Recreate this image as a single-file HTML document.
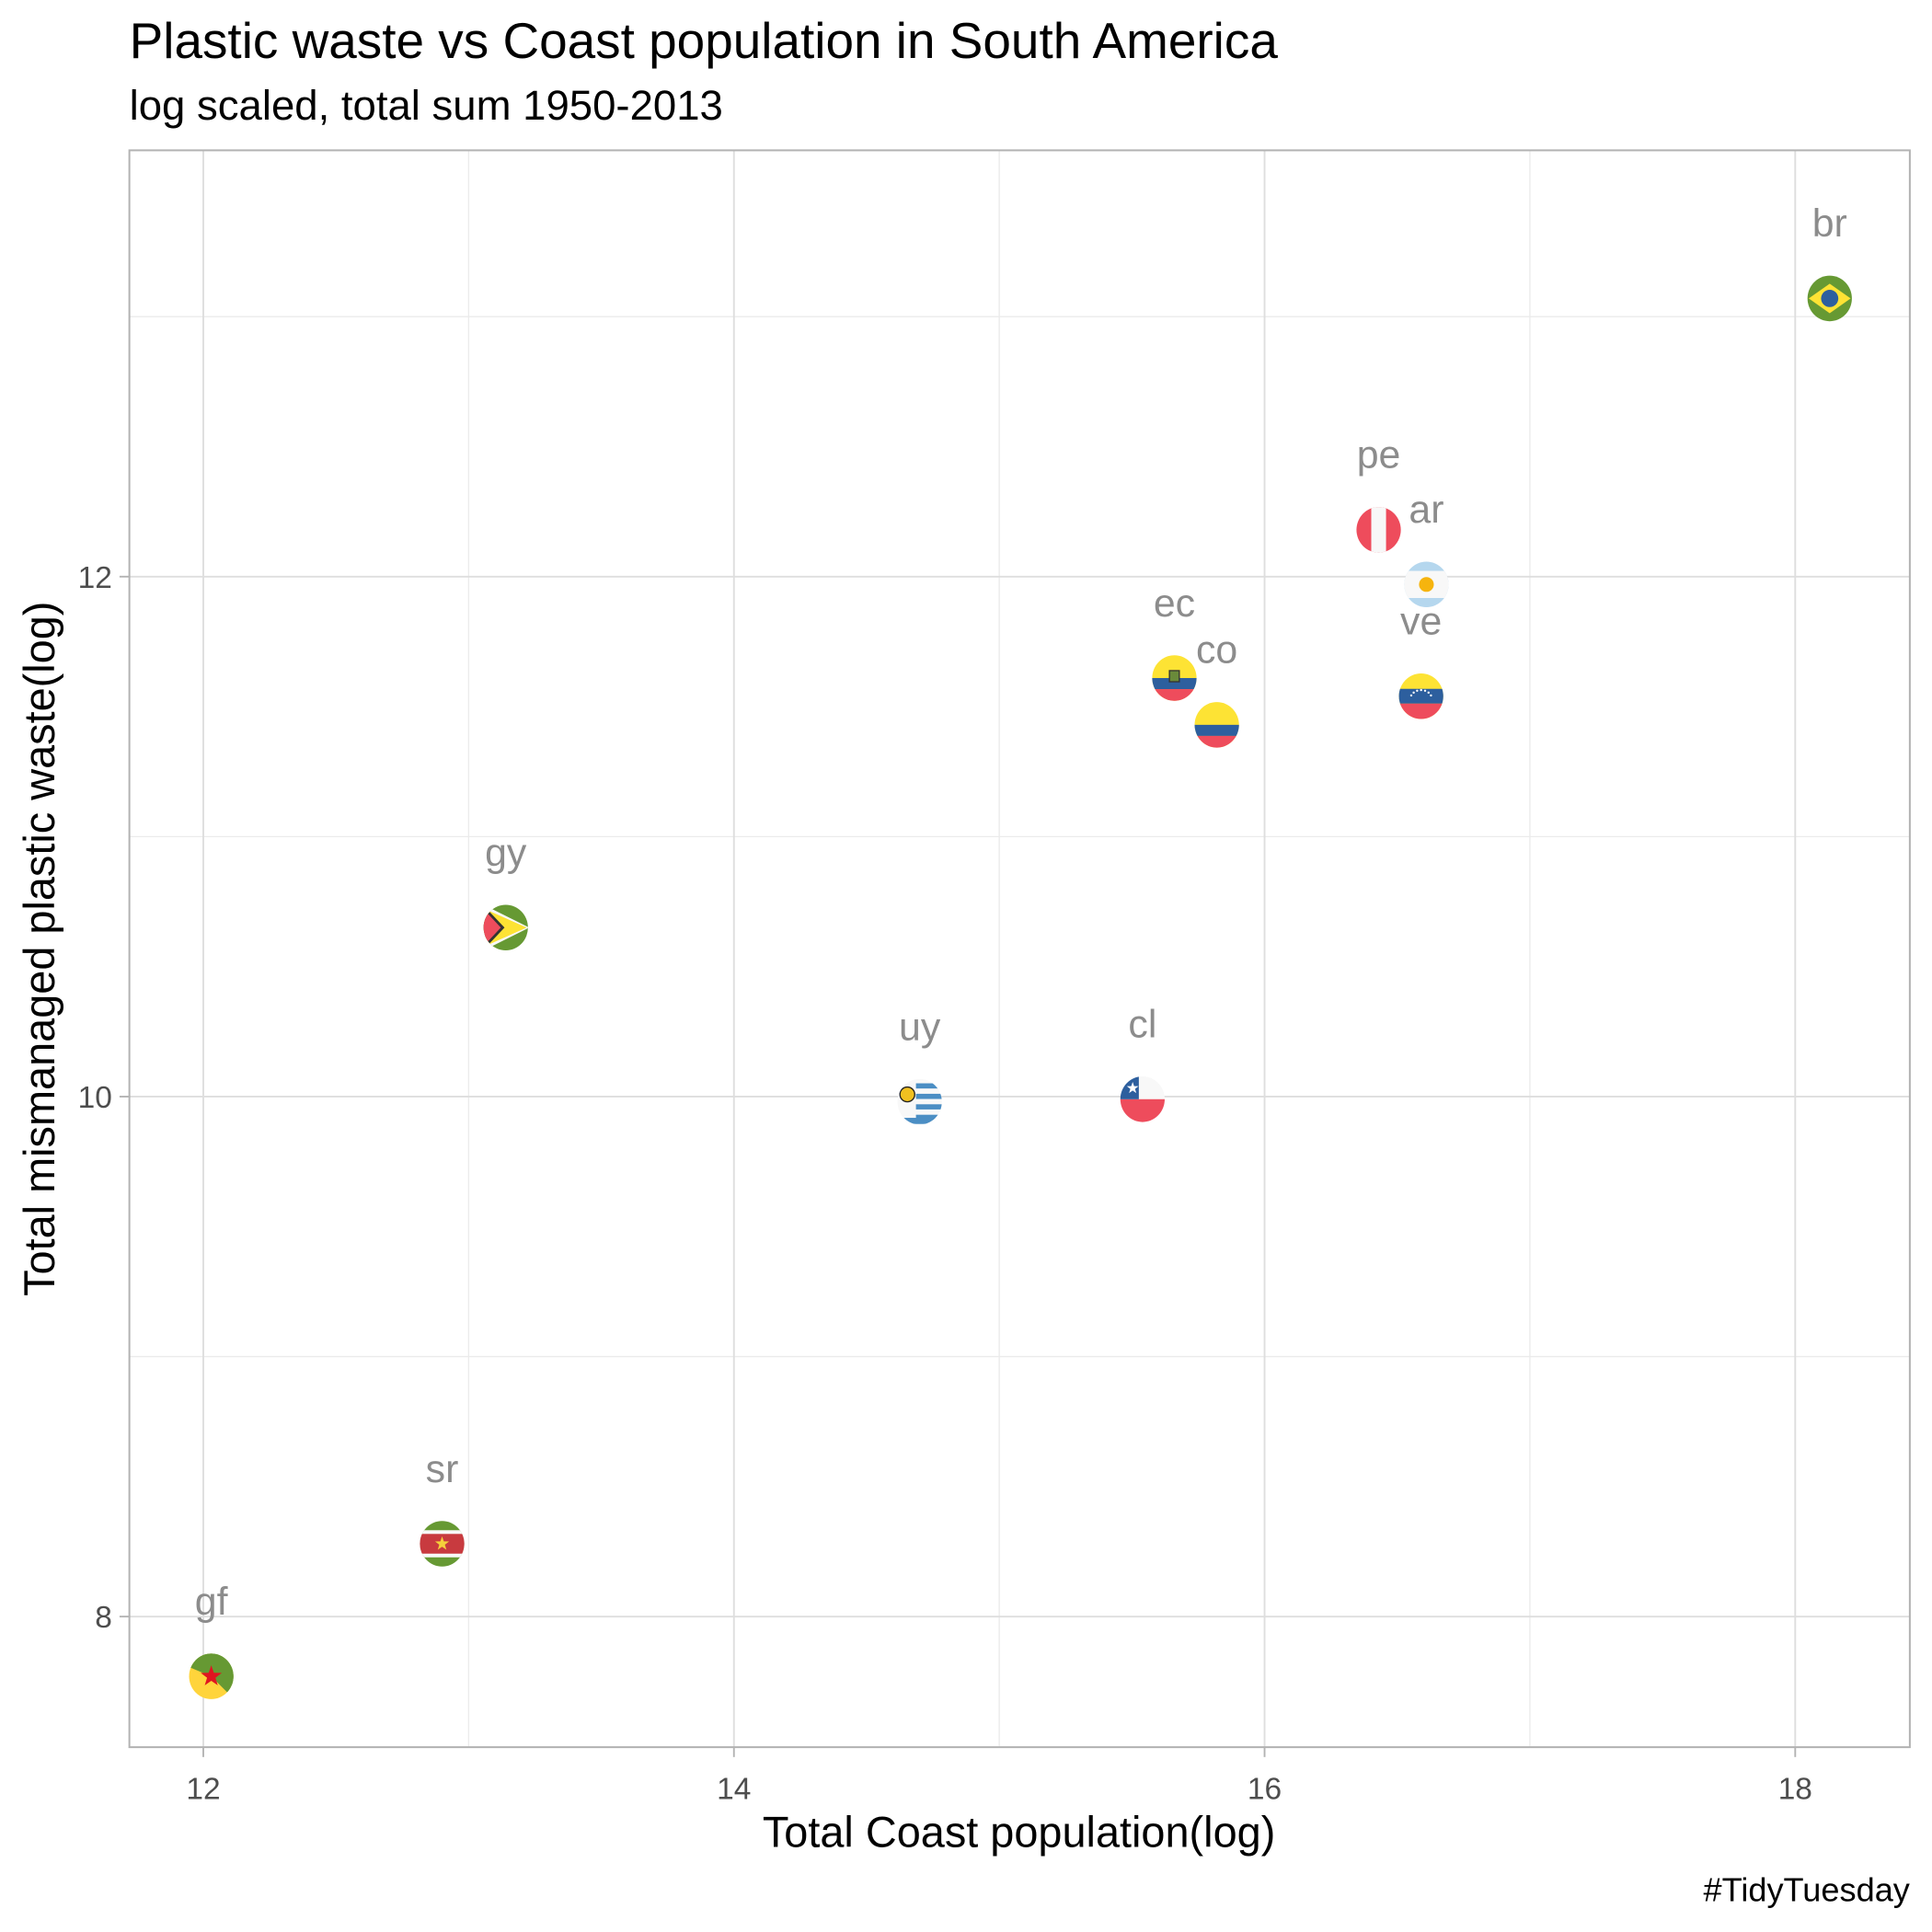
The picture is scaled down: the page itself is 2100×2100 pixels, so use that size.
<!DOCTYPE html>
<html><head><meta charset="utf-8"><style>
html,body{margin:0;padding:0;background:#fff;}
svg{display:block;font-family:"Liberation Sans",Arial,sans-serif;}
</style></head><body>
<svg id="chart" width="2100" height="2100" viewBox="0 0 1568 1568" xmlns="http://www.w3.org/2000/svg">
<rect x="0" y="0" width="1568" height="1568" fill="#fff"/>
<text x="105" y="47" font-size="41" fill="#000">Plastic waste vs Coast population in South America</text>
<text x="105" y="97" font-size="34" fill="#000">log scaled, total sum 1950-2013</text>
<g id="grid"></g>
<g id="axes"></g>
<g id="marks"></g>
<rect x="105" y="122" width="1445" height="1296" fill="none" stroke="#b3b3b3" stroke-width="1.5"/>
<text x="827" y="1499" font-size="35" text-anchor="middle" fill="#000">Total Coast population(log)</text>
<text transform="translate(44,770) rotate(-90)" font-size="35" text-anchor="middle" fill="#000">Total mismanaged plastic waste(log)</text>
<text x="1550" y="1543" font-size="27" text-anchor="end" fill="#000">#TidyTuesday</text>
</svg>
<script>
const countries = ["gf","sr","gy","uy","cl","ec","co","pe","ar","ve","br"];
const coastPop = [12.03,12.90,13.14,14.70,15.54,15.66,15.82,16.43,16.61,16.59,18.13];
const plasticWaste = [7.77,8.28,10.65,9.98,9.99,11.61,11.43,12.18,11.97,11.54,13.07];
const labelNudgeX = [0,0,0,0,0,0,0,0,0,0,0];
const labelNudgeY = [0.29,0.29,0.29,0.29,0.29,0.29,0.29,0.29,0.29,0.29,0.29];
const xTicks = [12,14,16,18];
const yTicks = [8,10,12];
const xMinor = [13,15,17];
const yMinor = [9,11,13];

const NS="http://www.w3.org/2000/svg";
const PL=105,PR=1550,PT=122,PB=1418;
function xs(v){return 165+(v-12)*215.33;}
function ys(v){return 1312-(v-8)*211;}
function mk(tag,attrs,parent){const e=document.createElementNS(NS,tag);for(const k in attrs)e.setAttribute(k,attrs[k]);parent.appendChild(e);return e;}
const grid=document.getElementById('grid'),axes=document.getElementById('axes'),marks=document.getElementById('marks');

xMinor.forEach(v=>{const l=mk('line',{x1:xs(v),x2:xs(v),y1:PT,y2:PB,stroke:'#ebebeb','stroke-width':1},grid);

});
yMinor.forEach(v=>{const l=mk('line',{x1:PL,x2:PR,y1:ys(v),y2:ys(v),stroke:'#ebebeb','stroke-width':1},grid);

});
xTicks.forEach(v=>{const l=mk('line',{x1:xs(v),x2:xs(v),y1:PT,y2:PB,stroke:'#dedede','stroke-width':1.4},grid);


const t=mk('line',{x1:xs(v),x2:xs(v),y1:PB,y2:PB+8,stroke:'#b3b3b3','stroke-width':1.4},axes);


const tx=mk('text',{x:xs(v),y:PB+42,'font-size':25,'text-anchor':'middle',fill:'#4d4d4d'},axes);tx.textContent=v;

});
yTicks.forEach(v=>{const l=mk('line',{x1:PL,x2:PR,y1:ys(v),y2:ys(v),stroke:'#dedede','stroke-width':1.4},grid);


const t=mk('line',{x1:PL-8,x2:PL,y1:ys(v),y2:ys(v),stroke:'#b3b3b3','stroke-width':1.4},axes);


const tx=mk('text',{x:PL-14,y:ys(v)+9,'font-size':25,'text-anchor':'end',fill:'#4d4d4d'},axes);tx.textContent=v;

});

const R='#ee4c5c',G='#669933',Y='#fde334',Y2='#ffd43b',B='#2d5f9e',W='#f8f8f8',LB='#b5d7ee',UB='#4b8ec4';
function star(cx,cy,r,fill,p){let pts=[];for(let i=0;i<10;i++){const a=-Math.PI/2+i*Math.PI/5,rr=i%2?r*0.4:r;pts.push((cx+rr*Math.cos(a)).toFixed(2)+','+(cy+rr*Math.sin(a)).toFixed(2));}mk('polygon',{points:pts.join(' '),fill:fill},p);}
function flag(code,g){
 const x=-19,y=-19,w=38,h=38;
 const rect=(a,b,c,d,f)=>mk('rect',{x:a,y:b,width:c,height:d,fill:f},g);
 switch(code){
 case 'gf': rect(x,y,w,h,Y2); mk('polygon',{points:'-19,-19 19,-19 19,19',fill:G},g); mk('polygon',{points:'-19,-19 19,-19 19,8 -19,-8',fill:G},g); star(0,0,9,'#e01520',g); break;
 case 'sr': rect(x,y,w,h,G); rect(x,-11,w,22,W); rect(x,-8,w,16,'#c83a3f'); star(0,0,6,'#f5d03b',g); break;
 case 'gy': rect(x,y,w,h,G); mk('polygon',{points:'-19,-19 19,0 -19,19',fill:W},g); mk('polygon',{points:'-19,-16 17,0 -19,16',fill:Y},g); mk('polygon',{points:'-19,-19 -1,0 -19,19',fill:'#333'},g); mk('polygon',{points:'-19,-16 -4,0 -19,16',fill:R},g); break;
 case 'uy': rect(x,y,w,h,W); for(let i=0;i<4;i++) rect(-3,-15+i*8.5,22,4.2,UB); rect(x,13,w,5,UB); mk('circle',{cx:-10,cy:-6,r:6,fill:'#f0c020',stroke:'#222','stroke-width':1},g); break;
 case 'cl': rect(x,y,w,h,W); rect(x,0,w,19,R); rect(x,y,16,19,B); star(-8,-9,5,'#fff',g); break;
 case 'ec': rect(x,y,w,h,Y); rect(x,0,w,9,B); rect(x,9,w,10,R); mk('rect',{x:-4,y:-6,width:8,height:9,fill:'#6a8a3a',stroke:'#333','stroke-width':1},g); break;
 case 'co': rect(x,y,w,h,Y); rect(x,0,w,9,B); rect(x,9,w,10,R); break;
 case 'pe': rect(x,y,w,h,R); rect(-6,y,12,h,W); break;
 case 'ar': rect(x,y,w,h,LB); rect(x,-11,w,22,W); mk('circle',{cx:0,cy:0,r:6,fill:'#f6b40e'},g); break;
 case 've': rect(x,y,w,h,Y); rect(x,-6,w,12,B); rect(x,6,w,13,R); for(let i=0;i<7;i++){const a=Math.PI*(0.15+0.7*i/6);mk('circle',{cx:-9*Math.cos(a),cy:3-8*Math.sin(a),r:0.9,fill:'#fff'},g);} break;
 case 'br': rect(x,y,w,h,G); mk('polygon',{points:'-17,0 0,-12 17,0 0,12',fill:Y},g); mk('circle',{cx:0,cy:0,r:7,fill:B},g); break;
 }
}
const defs=mk('defs',{},document.getElementById('chart'));
mk('ellipse',{cx:0,cy:0,rx:18,ry:18.5},mk('clipPath',{id:'fc'},defs));
countries.forEach((c,i)=>{
 const px=xs(coastPop[i]),py=ys(plasticWaste[i]);
 const g=mk('g',{transform:`translate(${px.toFixed(2)},${py.toFixed(2)})`},marks);
 
 
 const inner=mk('g',{'clip-path':'url(#fc)'},g);
 flag(c,inner);
 const lx=xs(coastPop[i]+labelNudgeX[i]),ly=ys(plasticWaste[i]+labelNudgeY[i]);
 const t=mk('text',{x:lx,y:ly+11,'font-size':32,'text-anchor':'middle',fill:'#8c8c8c'},marks);
 t.textContent=c;
 
 
});
</script>
</body></html>
